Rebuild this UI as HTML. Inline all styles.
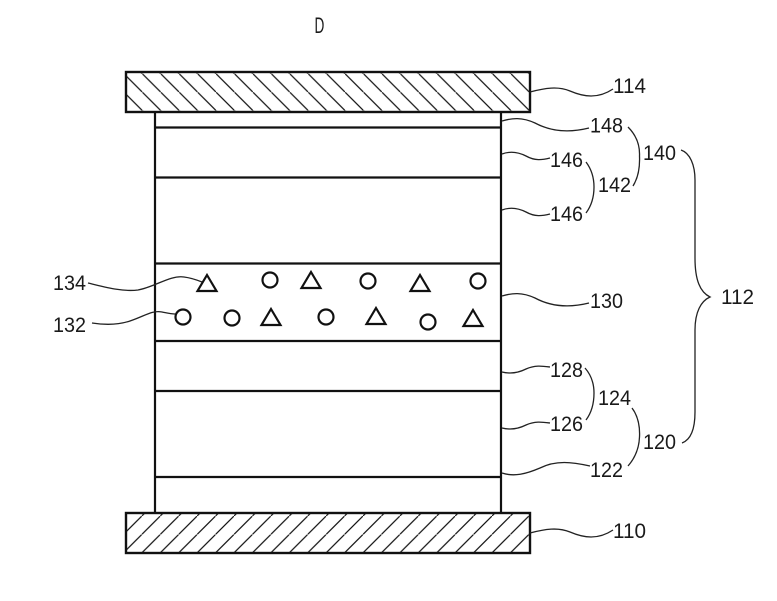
<!DOCTYPE html>
<html>
<head>
<meta charset="utf-8">
<style>
html,body{margin:0;padding:0;background:#fff;width:777px;height:601px;overflow:hidden}
svg{display:block}
text{font-family:"Liberation Sans",sans-serif;font-size:21px;fill:#1a1a1a}
</style>
</head>
<body>
<svg width="777" height="601" viewBox="0 0 777 601" xmlns="http://www.w3.org/2000/svg">
<defs>
<pattern id="h1" patternUnits="userSpaceOnUse" width="18.43" height="18.43" patternTransform="translate(68.6,0)">
<path d="M-2 -2L20.43 20.43" stroke="#111" stroke-width="1.2" fill="none"/>
</pattern>
<pattern id="h2" patternUnits="userSpaceOnUse" width="18.43" height="18.43" patternTransform="translate(676.27,0)">
<path d="M-2 20.43L20.43 -2" stroke="#111" stroke-width="1.2" fill="none"/>
</pattern>
</defs>
<rect width="777" height="601" fill="#fff"/>

<!-- body -->
<g stroke="#111" stroke-width="2.2" fill="none">
<path d="M155 112V513M501 112V513"/>
<path d="M155 127.5H501M155 177.5H501M155 263.5H501M155 341H501M155 391H501M155 477H501"/>
</g>

<!-- plates -->
<rect x="126" y="72" width="404" height="40" fill="url(#h1)" stroke="#111" stroke-width="2.4"/>
<rect x="126" y="513" width="404" height="40" fill="url(#h2)" stroke="#111" stroke-width="2.4"/>

<!-- particles -->
<g fill="none" stroke="#111" stroke-width="2.2">
<circle cx="270" cy="280" r="7.5"/>
<circle cx="368" cy="281" r="7.5"/>
<circle cx="478" cy="281" r="7.5"/>
<circle cx="183" cy="317" r="7.5"/>
<circle cx="232" cy="318" r="7.5"/>
<circle cx="326" cy="317" r="7.5"/>
<circle cx="428" cy="322" r="7.5"/>
<path d="M207 275L216.500 291H197.500Z"/>
<path d="M311 272L320.500 288H301.500Z"/>
<path d="M420 275L429.500 291H410.500Z"/>
<path d="M271 309L280.500 325H261.500Z"/>
<path d="M376 308L385.500 324H366.500Z"/>
<path d="M473 310L482.500 326H463.500Z"/>
</g>

<!-- connectors -->
<g fill="none" stroke="#222" stroke-width="1.3">
<path d="M530 92C545 88 558 86 570 91C584 97 598 99 613 89"/>
<path d="M502 121C512 118 522 117 535 123C548 130 565 134 589 128"/>
<path d="M502 154C510 151 518 152 526 156C535 161 542 160 550 158"/>
<path d="M502 210C510 207 518 208 526 212C535 217 542 216 550 214"/>
<path d="M502 296C512 293 522 292 535 298C548 305 565 309 589 303"/>
<path d="M502 372C510 374 518 373 526 369C535 365 542 366 550 367"/>
<path d="M502 428C510 430 518 429 526 425C535 421 542 422 550 423"/>
<path d="M502 473C514 477 526 474 540 468C556 460 572 462 590 466"/>
<path d="M530 533C545 529 558 527 570 532C584 538 598 540 613 530"/>
<path d="M88 283C105 287 122 292 138 290C155 287 170 275 184 277C192 278 197 280 202 282"/>
<path d="M92 323C105 325 118 325 130 321C145 316 152 310 162 312C167 313 171 314 175 314"/>
<!-- braces -->
<path d="M628 127C636 135 640 145 639.500 156C640 168 638 178 633 186"/>
<path d="M586 162C592 170 594 178 594 187C594 197 592 205 586 213"/>
<path d="M585 368C592 376 594 384 594 393C594 403 592 412 586 420"/>
<path d="M632 408C638 416 640 427 639.500 437C639 449 635 458 628 466"/>
<path d="M681 150C690 153 695 165 695 180V258C695 280 700 292 710 297C701 301 695 312 695 330V412C695 430 690 440 682 443"/>
</g>

<!-- labels -->
<text x="0" y="0" style="font-size:22px" transform="translate(314.500 33) scale(.62 1)">D</text>
<text x="613" y="93" textLength="33" lengthAdjust="spacingAndGlyphs">114</text>
<text x="590" y="132.500" textLength="33" lengthAdjust="spacingAndGlyphs">148</text>
<text x="643" y="160" textLength="33" lengthAdjust="spacingAndGlyphs">140</text>
<text x="550" y="167" textLength="33" lengthAdjust="spacingAndGlyphs">146</text>
<text x="598" y="192" textLength="33" lengthAdjust="spacingAndGlyphs">142</text>
<text x="550" y="221" textLength="33" lengthAdjust="spacingAndGlyphs">146</text>
<text x="590" y="308" textLength="33" lengthAdjust="spacingAndGlyphs">130</text>
<text x="721" y="304" textLength="33" lengthAdjust="spacingAndGlyphs">112</text>
<text x="550" y="377" textLength="33" lengthAdjust="spacingAndGlyphs">128</text>
<text x="598" y="405" textLength="33" lengthAdjust="spacingAndGlyphs">124</text>
<text x="550" y="431" textLength="33" lengthAdjust="spacingAndGlyphs">126</text>
<text x="643" y="449" textLength="33" lengthAdjust="spacingAndGlyphs">120</text>
<text x="590" y="477" textLength="33" lengthAdjust="spacingAndGlyphs">122</text>
<text x="613" y="538" textLength="33" lengthAdjust="spacingAndGlyphs">110</text>
<text x="53" y="290" textLength="33" lengthAdjust="spacingAndGlyphs">134</text>
<text x="53" y="332" textLength="33" lengthAdjust="spacingAndGlyphs">132</text>
</svg>
</body>
</html>
